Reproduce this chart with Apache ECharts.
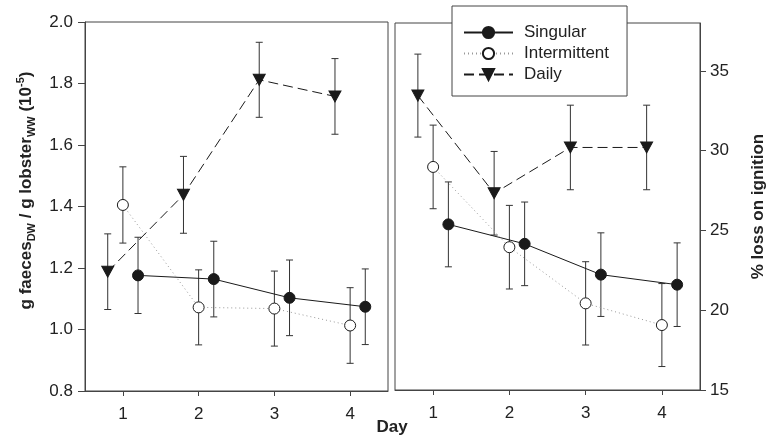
<!DOCTYPE html>
<html>
<head>
<meta charset="utf-8">
<script src="https://cdn.jsdelivr.net/npm/echarts@6/dist/echarts.min.js"></script>
<style>
  html, body { margin: 0; padding: 0; background: #fff; }
  #chart { width: 775px; height: 437px; }
</style>
</head>
<body>
<div id="chart"></div>
<script>
// data
const days = [1, 2, 3, 4];
const dayTicks = [1, 2, 3, 4];
const faecesTicks = [0.8, 1.0, 1.2, 1.4, 1.6, 1.8, 2.0];
const loiTicks = [15, 20, 25, 30, 35];

// left panel: g faeces DW / g lobster WW (10^-5)
const singularFaeces = [1.176, 1.164, 1.103, 1.074];
const singularFaecesErr = [0.124, 0.123, 0.123, 0.123];
const intermittentFaeces = [1.405, 1.072, 1.068, 1.013];
const intermittentFaecesErr = [0.124, 0.122, 0.122, 0.123];
const dailyFaeces = [1.188, 1.438, 1.812, 1.758];
const dailyFaecesErr = [0.123, 0.125, 0.122, 0.123];

// right panel: % loss on ignition
const singularLoi = [25.38, 24.16, 22.23, 21.6];
const singularLoiErr = [2.66, 2.62, 2.62, 2.62];
const intermittentLoi = [28.98, 23.95, 20.43, 19.07];
const intermittentLoiErr = [2.62, 2.62, 2.61, 2.6];
const dailyLoi = [33.45, 27.33, 30.2, 30.2];
const dailyLoiErr = [2.6, 2.62, 2.65, 2.65];

// horizontal shift of each treatment around the day
const offset = { Singular: 0.2, Intermittent: 0, Daily: -0.2 };

const FONT = '"Liberation Sans", Arial, sans-serif';
const INK = '#1a1a1a';
const AXIS = '#444';

const styles = {
  Singular: {
    symbol: 'circle', symbolSize: 11,
    itemStyle: { color: INK, borderColor: INK, borderWidth: 1 },
    lineStyle: { color: INK, width: 1, type: 'solid' },
  },
  Intermittent: {
    symbol: 'circle', symbolSize: 11,
    itemStyle: { color: '#fff', borderColor: INK, borderWidth: 1 },
    lineStyle: { color: '#999', width: 1, type: [1, 3] },
  },
  Daily: {
    symbol: 'path://M0,0 L10,0 L5,9 Z', symbolSize: [12, 11],
    itemStyle: { color: INK, borderColor: INK, borderWidth: 1 },
    lineStyle: { color: INK, width: 1, type: [10, 5] },
  },
};

function points(name, values, errs) {
  return days.map((d, i) => [d + offset[name], values[i], errs[i]]);
}

function renderError(params, api) {
  const x = api.value(0);
  const y = api.value(1);
  const e = api.value(2);
  const top = api.coord([x, y + e]);
  const bot = api.coord([x, y - e]);
  const w = 3.5;
  const st = { stroke: '#333', lineWidth: 1 };
  return {
    type: 'group',
    children: [
      { type: 'line', shape: { x1: top[0], y1: top[1], x2: bot[0], y2: bot[1] }, style: st },
      { type: 'line', shape: { x1: top[0] - w, y1: top[1], x2: top[0] + w, y2: top[1] }, style: st },
      { type: 'line', shape: { x1: bot[0] - w, y1: bot[1], x2: bot[0] + w, y2: bot[1] }, style: st },
    ],
  };
}

function seriesFor(name, values, errs, axisIndex) {
  const data = points(name, values, errs);
  return [
    {
      type: 'custom',
      name: name + ' err',
      xAxisIndex: axisIndex,
      yAxisIndex: axisIndex,
      renderItem: renderError,
      data: data,
      z: 1,
      silent: true,
    },
    Object.assign({
      type: 'line',
      name: name,
      xAxisIndex: axisIndex,
      yAxisIndex: axisIndex,
      data: data.map(p => [p[0], p[1]]),
      z: 3,
      animation: false,
    }, styles[name]),
  ];
}

const tickLabel = { color: '#222', fontSize: 17, fontFamily: FONT };

const chart = echarts.init(document.getElementById('chart'));
chart.setOption({
  animation: false,
  backgroundColor: '#fff',
  grid: [
    { left: 85, right: 387, top: 22, bottom: 46, show: true, borderColor: AXIS, borderWidth: 1 },
    { left: 395, right: 75, top: 23, bottom: 47, show: true, borderColor: AXIS, borderWidth: 1 },
  ],
  xAxis: [0, 1].map(i => ({
    type: 'value',
    gridIndex: i,
    min: 0.5,
    max: 4.5,
    splitLine: { show: false },
    axisLine: { lineStyle: { color: AXIS } },
    axisTick: { customValues: dayTicks, length: 5, lineStyle: { color: AXIS } },
    axisLabel: Object.assign({ customValues: dayTicks, margin: 15 }, tickLabel),
  })),
  yAxis: [
    {
      type: 'value',
      gridIndex: 0,
      min: 0.8,
      max: 2.0,
      splitLine: { show: false },
      axisLine: { show: true, lineStyle: { color: AXIS } },
      axisTick: { customValues: faecesTicks, length: 7, lineStyle: { color: AXIS } },
      axisLabel: Object.assign({ customValues: faecesTicks, margin: 12, formatter: v => v.toFixed(1) }, tickLabel),
      name: '{b|g faeces}{s|DW}{b| / g lobster}{s|WW}{b| (10}{p|-5}{b|)}',
      nameLocation: 'middle',
      nameRotate: 90,
      nameGap: 48,
      nameTextStyle: {
        padding: [0, 0, 0, 32],
        rich: {
          b: { fontSize: 17, fontWeight: 'bold', fontFamily: FONT, color: '#222', lineHeight: 22 },
          s: { fontSize: 11, fontWeight: 'bold', fontFamily: FONT, color: '#222', lineHeight: 22, verticalAlign: 'bottom' },
          p: { fontSize: 11, fontWeight: 'bold', fontFamily: FONT, color: '#222', lineHeight: 22, verticalAlign: 'top' },
        },
      },
    },
    {
      type: 'value',
      gridIndex: 1,
      position: 'right',
      min: 15,
      max: 38,
      splitLine: { show: false },
      axisLine: { show: true, lineStyle: { color: AXIS } },
      axisTick: { customValues: loiTicks, length: 6, lineStyle: { color: AXIS } },
      axisLabel: Object.assign({ customValues: loiTicks, margin: 10 }, tickLabel),
      name: '% loss on ignition',
      nameLocation: 'middle',
      nameRotate: 90,
      nameGap: 50,
      nameTextStyle: { fontSize: 17, fontWeight: 'bold', fontFamily: FONT, color: '#222' },
    },
  ],
  legend: {
    data: ['Singular', 'Intermittent', 'Daily'],
    orient: 'vertical',
    left: 452,
    top: 6,
    padding: [18, 18, 13, 11],
    itemWidth: 49,
    itemHeight: 14,
    itemGap: 4,
    backgroundColor: '#fff',
    borderColor: AXIS,
    borderWidth: 1,
    borderRadius: 0,
    textStyle: { fontSize: 17, fontFamily: FONT, color: '#222', padding: [0, 0, 0, 6] },
    selectedMode: false,
  },
  graphic: [
    {
      type: 'text',
      x: 392,
      y: 427,
      style: {
        text: 'Day', fontSize: 17, fontWeight: 'bold', fontFamily: FONT, fill: '#222',
        align: 'center', verticalAlign: 'middle',
      },
    },
  ],
  series: [].concat(
    seriesFor('Singular', singularFaeces, singularFaecesErr, 0),
    seriesFor('Intermittent', intermittentFaeces, intermittentFaecesErr, 0),
    seriesFor('Daily', dailyFaeces, dailyFaecesErr, 0),
    seriesFor('Singular', singularLoi, singularLoiErr, 1),
    seriesFor('Intermittent', intermittentLoi, intermittentLoiErr, 1),
    seriesFor('Daily', dailyLoi, dailyLoiErr, 1)
  ),
});
</script>
</body>
</html>
